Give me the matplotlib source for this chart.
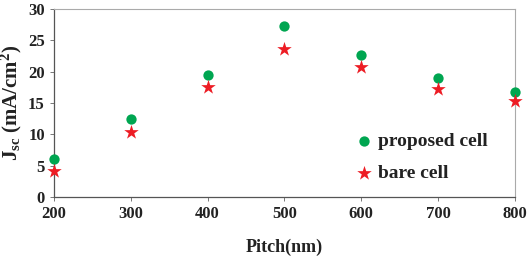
import matplotlib.pyplot as plt

# data
pitch = [200, 300, 400, 500, 600, 700, 800]
proposed = [6.1, 12.5, 19.5, 27.3, 22.6, 19.0, 16.8]
bare = [4.1, 10.4, 17.6, 23.6, 20.7, 17.2, 15.3]

plt.rcParams['font.family'] = ['Liberation Serif', 'DejaVu Serif']
plt.rcParams['mathtext.fontset'] = 'custom'
plt.rcParams['mathtext.rm'] = 'Liberation Serif:bold'
plt.rcParams['mathtext.it'] = 'Liberation Serif:bold'
plt.rcParams['mathtext.bf'] = 'Liberation Serif:bold'

fig = plt.figure(figsize=(5.28, 2.62), dpi=100)
ax = fig.add_axes([0.102, 0.248, 0.873, 0.718])

ax.scatter(pitch, proposed, s=55, color='#00a651', marker='o', label='proposed cell',
           clip_on=False, zorder=3, linewidths=0)
ax.scatter(pitch, bare, s=120, color='#ed1c24', marker='*', label='bare cell',
           clip_on=False, zorder=3, linewidths=0)

ax.set_xlim(200, 800)
ax.set_ylim(0, 30)
ax.set_xticks(pitch)
ax.set_yticks(range(0, 31, 5))

for side in ['left', 'bottom']:
    ax.spines[side].set_color('#555555')
    ax.spines[side].set_linewidth(0.9)
for side in ['top', 'right']:
    ax.spines[side].set_color('#aaaaaa')
    ax.spines[side].set_linewidth(0.8)

ax.tick_params(axis='both', direction='out', length=3, width=0.7, colors='#777777',
               labelcolor='#222222', labelsize=12)
for lbl in ax.get_xticklabels() + ax.get_yticklabels():
    lbl.set_fontweight('bold')

ax.set_xlabel('Pitch(nm)', fontsize=13, fontweight='bold', color='#222222', labelpad=12)
ax.set_ylabel(r'J$_{\mathrm{sc}}$ (mA/cm$^{2}$)', fontsize=15, fontweight='bold',
              color='#222222', labelpad=3)

leg = ax.legend(loc='lower left', bbox_to_anchor=(0.61, -0.015), frameon=False,
                prop={'weight': 'bold', 'size': 14}, handletextpad=0.1,
                labelspacing=0.75, handlelength=1.2, scatterpoints=1)
for t in leg.get_texts():
    t.set_color('#222222')

fig.savefig('out.png', dpi=100)
